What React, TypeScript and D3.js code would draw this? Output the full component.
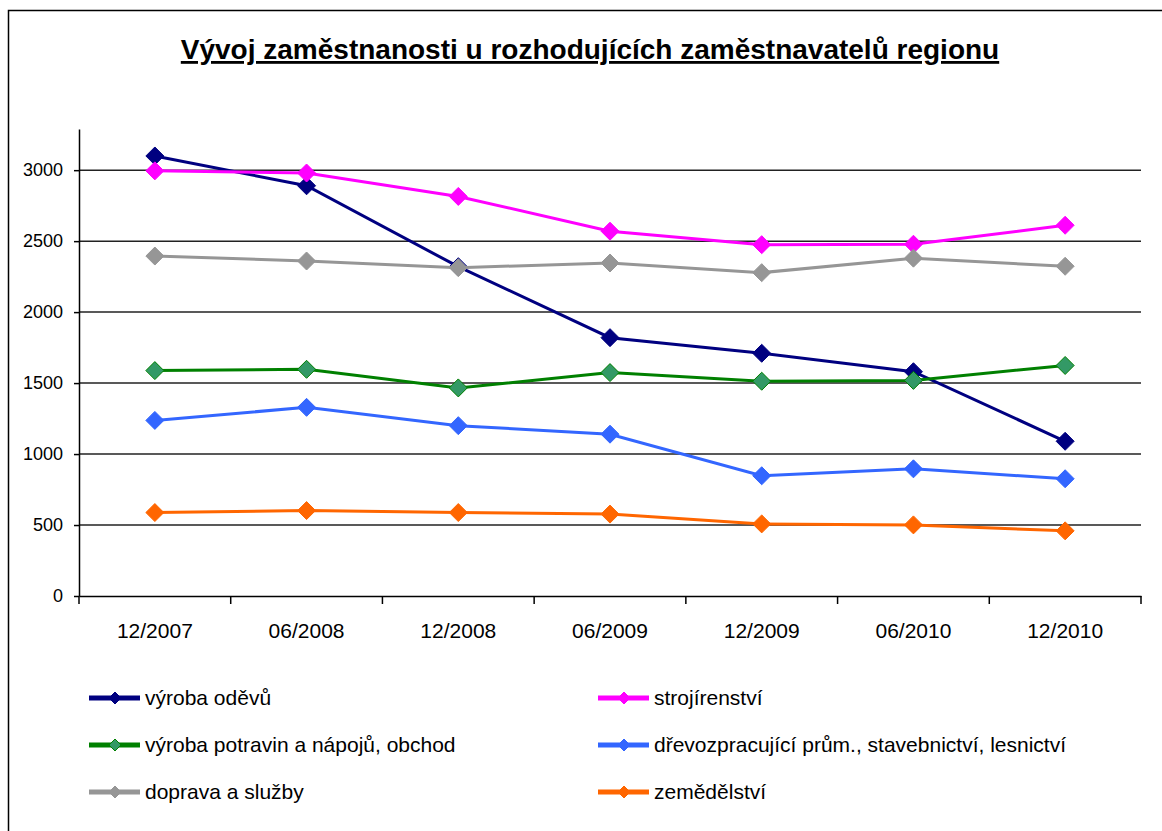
import React, { useEffect, useRef } from 'react';
import * as d3 from 'd3';

// Employment by sector at the region's key employers
const chartTitle = 'Vývoj zaměstnanosti u rozhodujících zaměstnavatelů regionu';
const categories = ['12/2007', '06/2008', '12/2008', '06/2009', '12/2009', '06/2010', '12/2010'];
const yTicks = [0, 500, 1000, 1500, 2000, 2500, 3000];

const vyrobaOdevu = [3100, 2890, 2320, 1820, 1710, 1580, 1090];
const strojirenstvi = [2995, 2980, 2815, 2570, 2475, 2478, 2612];
const vyrobaPotravin = [1588, 1597, 1466, 1574, 1513, 1519, 1624];
const drevozpracujici = [1237, 1329, 1200, 1140, 847, 896, 826];
const dopravaSluzby = [2395, 2360, 2313, 2346, 2278, 2380, 2323];
const zemedelstvi = [588, 602, 588, 577, 508, 501, 459];

const seriesNames = [
  'výroba oděvů',
  'strojírenství',
  'výroba potravin a nápojů, obchod',
  'dřevozpracující prům., stavebnictví, lesnictví',
  'doprava a služby',
  'zemědělství',
];

const FONT = '"Liberation Sans", Arial, sans-serif';

const App = () => {
  const svgRef = useRef<SVGSVGElement>(null);

  useEffect(() => {
    if (!svgRef.current) return;
    const svg = d3.select(svgRef.current);
    svg.selectAll('*').remove();

    const series = [
      { name: seriesNames[0], values: vyrobaOdevu, line: '#000080', fill: '#000080' },
      { name: seriesNames[1], values: strojirenstvi, line: '#FF00FF', fill: '#FF00FF' },
      { name: seriesNames[2], values: vyrobaPotravin, line: '#008000', fill: '#339966' },
      { name: seriesNames[3], values: drevozpracujici, line: '#3366FF', fill: '#3366FF' },
      { name: seriesNames[4], values: dopravaSluzby, line: '#969696', fill: '#969696' },
      { name: seriesNames[5], values: zemedelstvi, line: '#FF6600', fill: '#FF6600' },
    ];

    const left = 79, right = 1141, top = 129, bottom = 596;

    const x = d3.scaleBand<string>().domain(categories).range([left, right]).padding(0);
    const cx = (c: string) => (x(c) as number) + x.bandwidth() / 2;
    const y = d3.scaleLinear().domain([0, 3290]).range([bottom, top]);

    // frame
    svg.append('rect')
      .attr('x', 8.5).attr('y', 10.5)
      .attr('width', 1180).attr('height', 850)
      .attr('fill', '#fff')
      .attr('stroke', '#000')
      .attr('stroke-width', 1.5);

    // title
    svg.append('text')
      .attr('x', 590)
      .attr('y', 59)
      .attr('text-anchor', 'middle')
      .style('font-family', FONT)
      .style('font-size', '28px')
      .style('font-weight', 'bold')
      .style('text-decoration', 'underline')
      .attr('fill', '#000')
      .text(chartTitle);

    // grid lines
    svg.append('g')
      .selectAll('line')
      .data(yTicks.filter(d => d > 0))
      .enter()
      .append('line')
      .attr('x1', left).attr('x2', right)
      .attr('y1', d => y(d)).attr('y2', d => y(d))
      .attr('stroke', '#222')
      .attr('stroke-width', 1.5);

    // y axis
    const yAxis = svg.append('g')
      .attr('transform', `translate(${left},0)`)
      .call(d3.axisLeft(y).tickValues(yTicks).tickFormat(d3.format('d')).tickSize(5).tickPadding(11).tickSizeOuter(0));
    yAxis.select('.domain').attr('stroke', '#000').attr('stroke-width', 1.5);
    yAxis.selectAll('.tick line').attr('stroke', '#000').attr('stroke-width', 1.5);
    yAxis.selectAll('text')
      .style('font-family', FONT)
      .style('font-size', '18px')
      .attr('fill', '#000');

    // x axis (labels centered in bands, ticks at band edges)
    const xAxis = svg.append('g')
      .attr('transform', `translate(0,${bottom})`)
      .call(d3.axisBottom(x).tickSize(0).tickSizeOuter(0));
    xAxis.select('.domain').attr('stroke', '#000').attr('stroke-width', 1.5);
    xAxis.selectAll('text')
      .attr('y', 42).attr('dy', 0)
      .style('font-family', FONT)
      .style('font-size', '21px')
      .attr('fill', '#000');

    const edges = categories.map(c => x(c) as number).concat([right]);
    svg.append('g')
      .selectAll('line')
      .data(edges)
      .enter()
      .append('line')
      .attr('x1', d => d).attr('x2', d => d)
      .attr('y1', bottom).attr('y2', bottom + 8)
      .attr('stroke', '#000')
      .attr('stroke-width', 1.5);

    const line = d3.line<number>()
      .x((d, i) => cx(categories[i]))
      .y(d => y(d));

    const diamond = (r: number) => `M0,${-r}L${r},0L0,${r}L${-r},0Z`;

    series.forEach(s => {
      svg.append('path')
        .datum(s.values)
        .attr('fill', 'none')
        .attr('stroke', s.line)
        .attr('stroke-width', 3)
        .attr('d', line);

      svg.append('g')
        .selectAll('path')
        .data(s.values)
        .enter()
        .append('path')
        .attr('d', diamond(9))
        .attr('transform', (d, i) => `translate(${cx(categories[i])},${y(d)})`)
        .attr('fill', s.fill)
        .attr('stroke', s.line)
        .attr('stroke-width', 1);
    });

    // legend: two columns, three rows
    const colX = [89, 598];
    const rowY = [698, 745, 792];
    series.forEach((s, i) => {
      const g = svg.append('g')
        .attr('transform', `translate(${colX[i % 2]},${rowY[Math.floor(i / 2)]})`);
      g.append('line')
        .attr('x1', 0).attr('x2', 51)
        .attr('y1', 0).attr('y2', 0)
        .attr('stroke', s.line)
        .attr('stroke-width', 5);
      g.append('path')
        .attr('d', diamond(6))
        .attr('transform', 'translate(26,0)')
        .attr('fill', s.fill)
        .attr('stroke', s.line)
        .attr('stroke-width', 1);
      g.append('text')
        .attr('x', 56)
        .attr('y', 7)
        .style('font-family', FONT)
        .style('font-size', '21px')
        .attr('fill', '#000')
        .text(s.name);
    });
  }, []);

  return (
    <svg
      ref={svgRef}
      width={1162}
      height={831}
      style={{ position: 'absolute', left: 0, top: 0, background: '#fff' }}
    />
  );
};

export default App;
